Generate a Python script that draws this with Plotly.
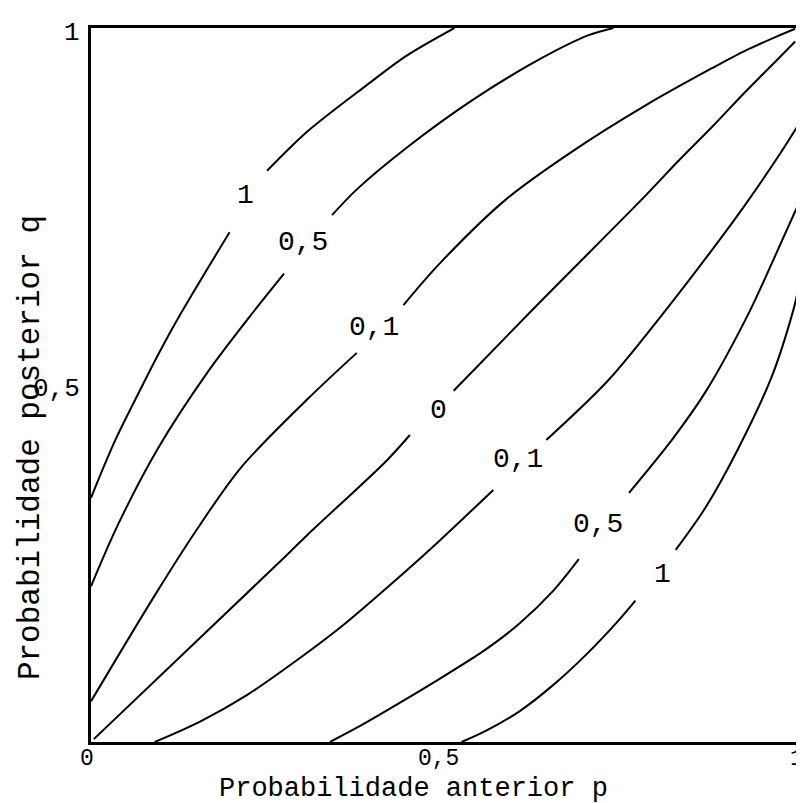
import plotly.graph_objects as go

# ---- data (p = prior, q = posterior); None = gap at label ----
up1_p = [0.000, 0.034, 0.070, 0.099, 0.127, 0.196, None, 0.249, 0.306, 0.390, 0.446, 0.514]
up1_q = [0.342, 0.422, 0.494, 0.550, 0.600, 0.714, None, 0.800, 0.855, 0.920, 0.961, 1.000]

up05_p = [0.000, 0.038, 0.094, 0.165, 0.231, 0.273, None, 0.341, 0.376, 0.446, 0.541, 0.634, 0.704, 0.739]
up05_q = [0.218, 0.304, 0.410, 0.518, 0.604, 0.656, None, 0.738, 0.774, 0.832, 0.900, 0.956, 0.990, 1.000]

up01_p = [0.000, 0.090, 0.146, 0.211, 0.306, 0.376, None, 0.442, 0.493, 0.587, 0.682, 0.785, 0.879, 0.925, 0.972, 0.996]
up01_q = [0.057, 0.205, 0.292, 0.383, 0.480, 0.545, None, 0.612, 0.670, 0.760, 0.828, 0.892, 0.944, 0.968, 0.989, 0.999]

zero_p = [0.004, 0.273, 0.306, 0.418, 0.451, None, 0.513, 0.630, 0.785, 0.831, 0.879, 0.925, 0.972, 0.996]
zero_q = [0.004, 0.258, 0.290, 0.394, 0.430, None, 0.492, 0.611, 0.766, 0.814, 0.862, 0.910, 0.957, 0.981]

lo01_p = [0.090, 0.155, 0.221, 0.296, 0.352, 0.446, 0.493, 0.569, None, 0.644, 0.732, 0.813, 0.879, 0.925, 0.972, 0.999]
lo01_q = [0.000, 0.029, 0.066, 0.118, 0.160, 0.240, 0.282, 0.353, None, 0.423, 0.507, 0.605, 0.690, 0.752, 0.820, 0.862]

lo05_p = [0.338, 0.376, 0.418, 0.489, 0.559, 0.606, 0.654, 0.690, None, 0.761, 0.823, 0.869, 0.930, 0.965, 1.000]
lo05_q = [0.000, 0.020, 0.044, 0.086, 0.130, 0.166, 0.212, 0.256, None, 0.349, 0.425, 0.490, 0.600, 0.675, 0.752]

lo1_p = [0.524, 0.559, 0.606, 0.654, 0.700, 0.746, 0.770, None, 0.827, 0.869, 0.915, 0.963, 0.992, 1.000]
lo1_q = [0.000, 0.016, 0.043, 0.080, 0.122, 0.170, 0.198, None, 0.269, 0.328, 0.410, 0.512, 0.600, 0.632]

curves = [(up1_p, up1_q), (up05_p, up05_q), (up01_p, up01_q), (zero_p, zero_q),
          (lo01_p, lo01_q), (lo05_p, lo05_q), (lo1_p, lo1_q)]

label_text = ["1", "0,5", "0,1", "0", "0,1", "0,5", "1"]
label_p = [0.218, 0.300, 0.400, 0.492, 0.604, 0.717, 0.808]
label_q = [0.766, 0.699, 0.580, 0.464, 0.395, 0.304, 0.234]

xtick_text = ["0", "0,5", "1"]
xtick_pos = [-0.006, 0.4915, 0.999]
ytick_text = ["1", "0,5"]
ytick_pos = [0.993, 0.494]

x_title = "Probabilidade anterior p"
y_title = "Probabilidade posterior q"

FONT = "Liberation Mono, Courier New, monospace"

fig = go.Figure()
for cp, cq in curves:
    fig.add_trace(go.Scatter(
        x=cp, y=cq, mode="lines",
        line=dict(color="black", width=2.0, shape="spline", smoothing=0.9),
        connectgaps=False, hoverinfo="skip", showlegend=False))

annotations = []
for t, p, q in zip(label_text, label_p, label_q):
    annotations.append(dict(x=p, y=q, xref="x", yref="y", text=t, showarrow=False,
                            font=dict(family=FONT, size=28, color="black"),
                            xanchor="center", yanchor="middle"))
for t, p in zip(xtick_text, xtick_pos):
    annotations.append(dict(x=p, y=-0.024, xref="paper", yref="paper", text=t, showarrow=False,
                            font=dict(family=FONT, size=23, color="black"), borderpad=0,
                            xanchor="center", yanchor="middle"))
for t, q in zip(ytick_text, ytick_pos):
    annotations.append(dict(x=-0.013, y=q, xref="paper", yref="paper", text=t, showarrow=False,
                            font=dict(family=FONT, size=26, color="black"),
                            xanchor="right", yanchor="middle"))
annotations.append(dict(x=0.456, y=-0.066, xref="paper", yref="paper", text=x_title, showarrow=False,
                        font=dict(family=FONT, size=27, color="black"), borderpad=0,
                        xanchor="center", yanchor="middle"))
annotations.append(dict(x=-0.0845, y=0.412, xref="paper", yref="paper", text=y_title, showarrow=False,
                        textangle=-90, font=dict(family=FONT, size=31, color="black"),
                        xanchor="center", yanchor="middle"))

fig.update_layout(
    width=804, height=803,
    margin=dict(l=83, r=11, t=20, b=69),
    paper_bgcolor="white", plot_bgcolor="white",
    annotations=annotations,
    xaxis=dict(range=[0, 1], showgrid=False, zeroline=False, showticklabels=False, ticks="",
               showline=True, mirror=True, linecolor="black", linewidth=2.6, fixedrange=True),
    yaxis=dict(range=[0, 1], showgrid=False, zeroline=False, showticklabels=False, ticks="",
               showline=True, mirror=True, linecolor="black", linewidth=2.6, fixedrange=True),
)

fig.write_html("out.html")
